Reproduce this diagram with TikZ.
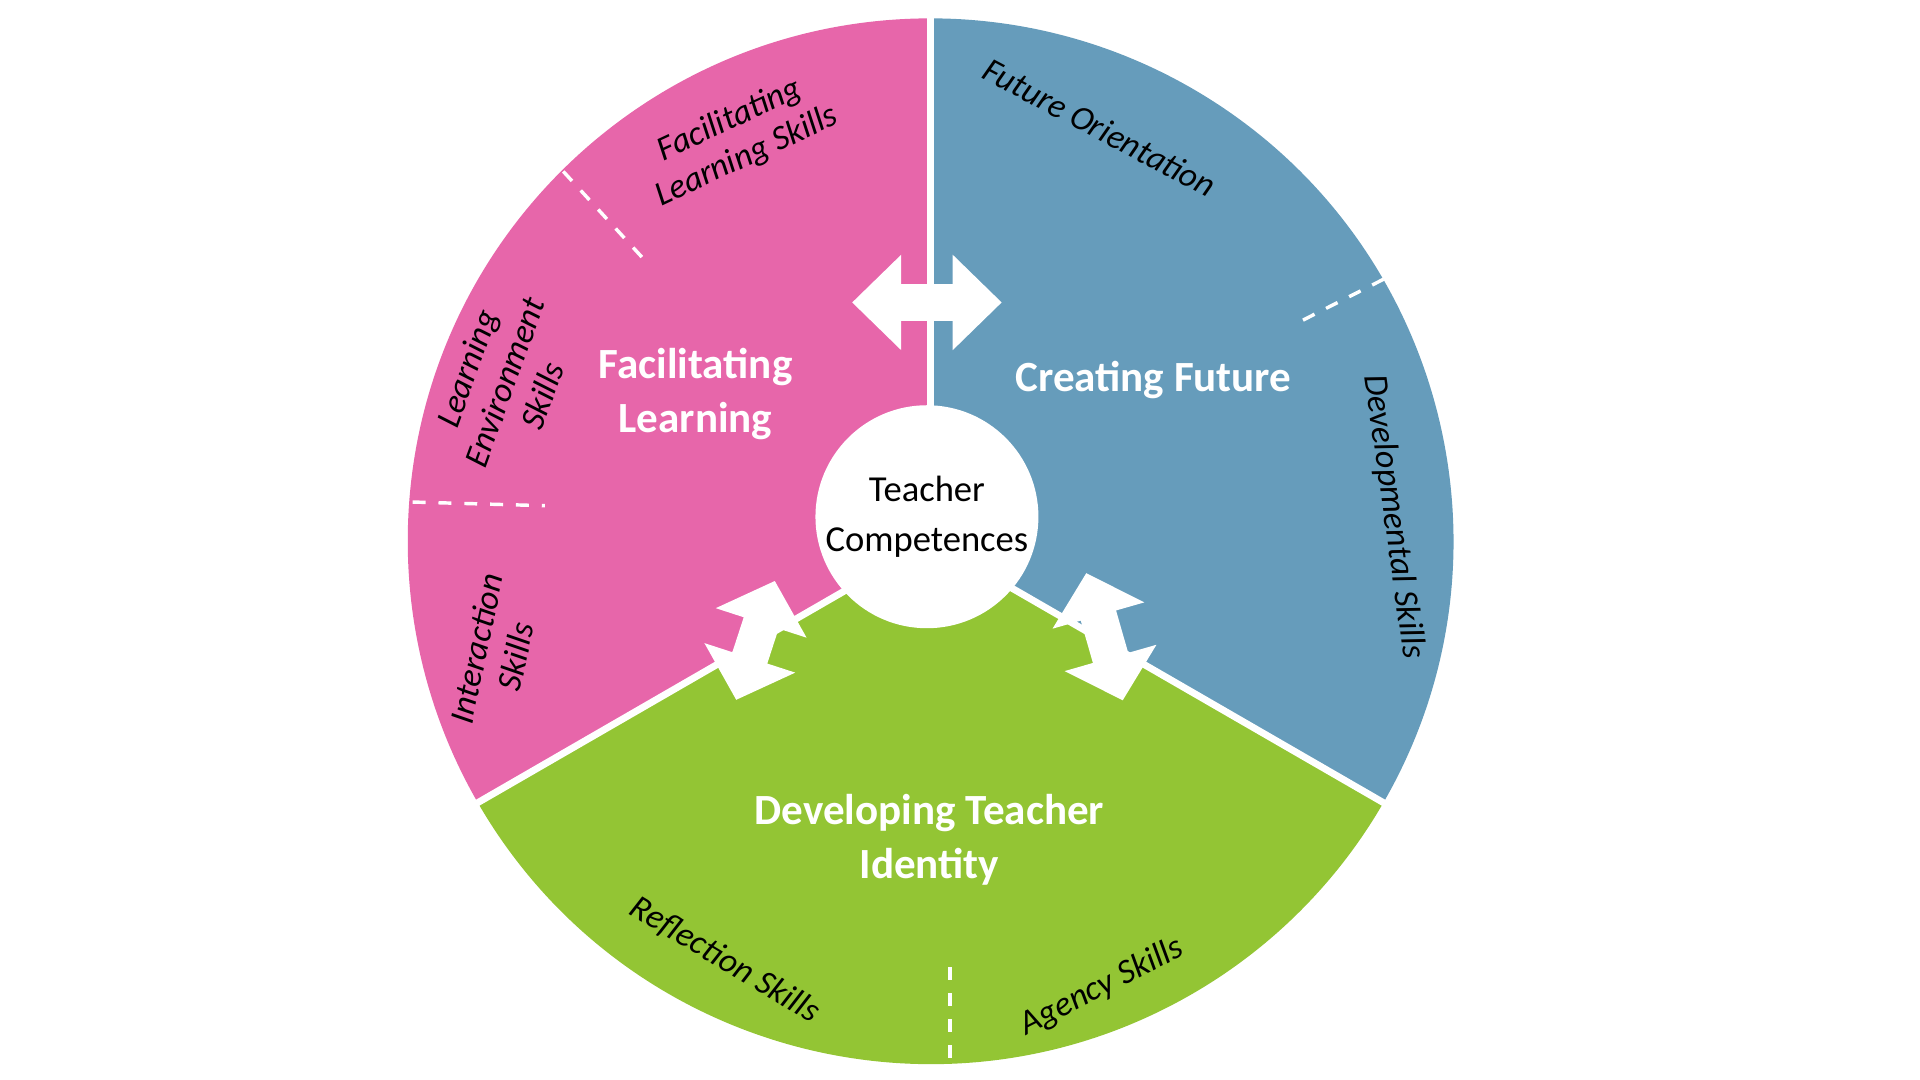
\documentclass[tikz,border=0pt]{standalone}
\usepackage{fontspec}
\setmainfont{Carlito}
\definecolor{pk}{HTML}{E766AA}
\definecolor{bl}{HTML}{669CBB}
\definecolor{gr}{HTML}{93C534}
\newcommand{\dblarrow}[4]{%
\begin{scope}[shift={#1},rotate=#2]
\fill[white] (-#3,0) -- (-#3+#4,-39) -- (-#3+#4,-15) -- (#3-#4,-15) -- (#3-#4,-39) -- (#3,0) -- (#3-#4,39) -- (#3-#4,15) -- (-#3+#4,15) -- (-#3+#4,39) -- cycle;
\end{scope}}
\begin{document}
\begin{tikzpicture}[x=0.01cm,y=-0.01cm,
  sep/.style={white,line width=1.6pt},
  dsh/.style={white,dashed,line width=0.8pt},
  big/.style={white,font=\fontsize{10}{12.5}\selectfont\bfseries,align=center},
  lab/.style={font=\fontsize{8}{9.3}\selectfont\itshape,align=center,inner sep=1pt}]
\useasboundingbox (0,0) rectangle (1568,882);
\coordinate (c) at (760,442);
\fill[pk] (c) -- ++(-90:427) arc[start angle=-90,end angle=-210,radius=427] -- cycle;
\fill[bl] (c) -- ++(30:427) arc[start angle=30,end angle=-90,radius=427] -- cycle;
\fill[gr] (c) -- ++(-210:427) arc[start angle=-210,end angle=-330,radius=427] -- cycle;
\draw[sep] (c) -- ++(-90:430);
\draw[sep] (c) -- ++(-210:430);
\draw[sep] (c) -- ++(30:430);
\coordinate (d1a) at (460,140); \coordinate (d1b) at (527,213);
\coordinate (d2a) at (337,410); \coordinate (d2b) at (445,413);
\coordinate (d3a) at (1130,228); \coordinate (d3b) at (1063,262);
\coordinate (d4a) at (776,790); \coordinate (d4b) at (776,868);
\draw[dsh] (d1a)--(d1b); \draw[dsh] (d2a)--(d2b); \draw[dsh] (d3a)--(d3b); \draw[dsh] (d4a)--(d4b);
\node[circle,fill=white,minimum size=1.82cm,inner sep=0pt,align=center,font=\fontsize{8.5}{11.5}\selectfont] (tc) at (757,422) {Teacher\\Competences};
\dblarrow{(757,247)}{0}{61}{40}
\dblarrow{(617,523)}{72}{51}{36}
\dblarrow{(902,520)}{-74}{54}{36}
\node[big] (fl) at (568,322) {Facilitating\\Learning};
\node[big] (cf) at (942,310) {Creating Future};
\node[big] (dt) at (759,686) {Developing Teacher\\Identity};
\node[lab,rotate=-28] (fo) at (898,104) {Future Orientation};
\node[lab,rotate=-82] (ds) at (1138,422) {Developmental Skills};
\node[lab,rotate=27] (as) at (900,806) {Agency Skills};
\node[lab,rotate=-31] (rs) at (592,784) {Reflection Skills};
\node[lab,rotate=25] (fls) at (603,113) {Facilitating\\Learning Skills};
\node[lab,rotate=70] (les) at (412,312) {Learning\\Environment\\Skills};
\node[lab,rotate=78] (is) at (405,533) {Interaction\\Skills};
\end{tikzpicture}
\end{document}
